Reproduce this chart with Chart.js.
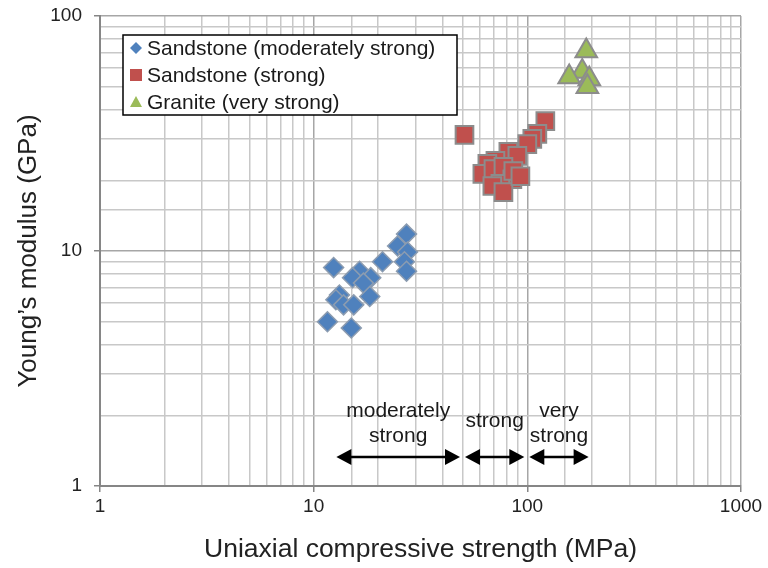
<!DOCTYPE html>
<html>
<head>
<meta charset="utf-8">
<script src="https://cdn.jsdelivr.net/npm/chart.js@4"></script>
<style>
  body { margin: 0; background: #fff; }
  #wrap { width: 768px; height: 568px; }
</style>
</head>
<body>
<div id="wrap"><canvas id="modulusChart"></canvas></div>
<script>
// UCS (MPa) and Young's modulus (GPa)
const modStrongUcs = [27.2, 24.7, 27.5, 21.0, 26.6, 27.2, 12.4, 16.4, 15.2, 18.5, 17.1, 13.2, 12.7, 13.8, 15.4, 18.3, 11.6, 15.0];
const modStrongE   = [11.8, 10.5, 9.9, 9.0, 9.0, 8.2, 8.5, 8.2, 7.7, 7.7, 7.3, 6.5, 6.2, 5.9, 5.9, 6.4, 5.0, 4.7];

const strongUcs = [50.8, 121.4, 111.4, 105.5, 100, 81.5, 89.8, 70.9, 65.0, 61.6, 69.4, 77.3, 85.1, 74.8, 68.6, 86.0, 77.3, 92.8];
const strongE   = [31.2, 35.7, 31.5, 30.0, 28.5, 26.4, 25.4, 24.2, 23.5, 21.3, 22.3, 22.8, 20.2, 19.3, 18.9, 21.9, 17.8, 20.8];

const graniteUcs = [188.7, 180.7, 157, 195, 191];
const graniteE   = [71, 58, 55, 54, 50];

const seriesNames = ['Sandstone (moderately strong)', 'Sandstone (strong)', 'Granite (very strong)'];

// strength classes drawn as arrows under the points
const zoneLines = [['moderately', 'strong'], ['strong'], ['very', 'strong']];
const zoneFrom = [12.5, 50, 100];
const zoneTo = [50, 100, 200];
const zoneLevel = 1.33;

const xTickLabels = [1, 10, 100, 1000];
const yTickLabels = [1, 10, 100];

function pts(xs, ys) {
  return xs.map((x, i) => ({ x: x, y: ys[i] }));
}

const FONT = '"Liberation Sans", Arial, sans-serif';
const fillColors = ['#4f81bd', '#c0504d', '#9bbb59'];

const zonePlugin = {
  id: 'zones',
  afterDatasetsDraw(chart) {
    const ctx = chart.ctx;
    const xs = chart.scales.x, ys = chart.scales.y;
    const yPix = ys.getPixelForValue(zoneLevel);
    ctx.save();
    ctx.strokeStyle = '#000';
    ctx.fillStyle = '#000';
    ctx.lineWidth = 2.5;
    zoneFrom.forEach((from, i) => {
      const a = xs.getPixelForValue(from) + 2;
      const b = xs.getPixelForValue(zoneTo[i]) - 3;
      ctx.beginPath();
      ctx.moveTo(a + 10, yPix);
      ctx.lineTo(b - 10, yPix);
      ctx.stroke();
      ctx.beginPath();
      ctx.moveTo(a, yPix); ctx.lineTo(a + 15, yPix - 8); ctx.lineTo(a + 15, yPix + 8); ctx.closePath();
      ctx.fill();
      ctx.beginPath();
      ctx.moveTo(b, yPix); ctx.lineTo(b - 15, yPix - 8); ctx.lineTo(b - 15, yPix + 8); ctx.closePath();
      ctx.fill();
      // label
      ctx.font = '21px ' + FONT;
      ctx.fillStyle = '#1a1a1a';
      ctx.textAlign = 'center';
      ctx.textBaseline = 'middle';
      const mid = (a + b) / 2;
      const lines = zoneLines[i];
      if (lines.length === 1) {
        ctx.fillText(lines[0], mid, yPix - 36);
      } else {
        ctx.fillText(lines[0], mid, yPix - 46);
        ctx.fillText(lines[1], mid, yPix - 21);
      }
      ctx.fillStyle = '#000';
    });
    ctx.restore();
  }
};

const legendPlugin = {
  id: 'boxLegend',
  afterDraw(chart) {
    const ctx = chart.ctx;
    const area = chart.chartArea;
    const left = area.left + 23, top = area.top + 19;
    const w = 334, h = 80;
    ctx.save();
    ctx.fillStyle = '#fff';
    ctx.fillRect(left, top, w, h);
    ctx.strokeStyle = '#000';
    ctx.lineWidth = 1.5;
    ctx.strokeRect(left, top, w, h);
    ctx.font = '21px ' + FONT;
    ctx.textBaseline = 'middle';
    ctx.textAlign = 'left';
    seriesNames.forEach((name, i) => {
      const cy = top + 13 + i * 27;
      const cx = left + 13;
      ctx.fillStyle = fillColors[i];
      ctx.strokeStyle = '#8c8c8c';
      ctx.lineWidth = 1;
      ctx.beginPath();
      if (i === 0) {
        ctx.moveTo(cx, cy - 6); ctx.lineTo(cx + 6, cy); ctx.lineTo(cx, cy + 6); ctx.lineTo(cx - 6, cy); ctx.closePath();
      } else if (i === 1) {
        ctx.rect(cx - 6, cy - 6, 12, 12);
      } else {
        ctx.moveTo(cx, cy - 6); ctx.lineTo(cx + 6, cy + 5); ctx.lineTo(cx - 6, cy + 5); ctx.closePath();
      }
      ctx.fill();
      ctx.fillStyle = '#1a1a1a';
      ctx.fillText(name, left + 24, cy + 1);
    });
    ctx.restore();
  }
};

function isMajor(v) {
  return Math.abs(Math.log10(v) - Math.round(Math.log10(v))) < 1e-6;
}

const chart = new Chart(document.getElementById('modulusChart'), {
  type: 'scatter',
  data: {
    datasets: [
      { label: seriesNames[0], data: pts(modStrongUcs, modStrongE), pointStyle: 'rectRot', pointRadius: 10,
        backgroundColor: fillColors[0], borderColor: '#8c9cb0', borderWidth: 1.5 },
      { label: seriesNames[1], data: pts(strongUcs, strongE), pointStyle: 'rect', pointRadius: 12.5,
        backgroundColor: fillColors[1], borderColor: '#8c8c8c', borderWidth: 2 },
      { label: seriesNames[2], data: pts(graniteUcs, graniteE), pointStyle: 'triangle', pointRadius: 12.5,
        backgroundColor: fillColors[2], borderColor: '#8c8c8c', borderWidth: 2 }
    ]
  },
  options: {
    responsive: true,
    maintainAspectRatio: false,
    animation: false,
    layout: { padding: { top: 16, right: 27, left: 0, bottom: 0 } },
    plugins: {
      legend: { display: false },
      tooltip: { enabled: false }
    },
    scales: {
      x: {
        type: 'logarithmic',
        min: 1, max: 1000,
        afterFit(scale) { scale.height = 82; },
        grid: {
          color: ctx => isMajor(ctx.tick.value) ? '#a6a6a6' : '#c8c8c8',
          lineWidth: 1.5,
          tickLength: 6,
          tickColor: ctx => isMajor(ctx.tick.value) ? '#868686' : 'rgba(0,0,0,0)'
        },
        border: { color: '#868686', width: 2 },
        ticks: {
          autoSkip: false,
          maxRotation: 0,
          color: '#222',
          font: { family: FONT, size: 19 },
          padding: 3,
          callback: v => xTickLabels.includes(v) ? String(v) : ''
        },
        title: {
          display: true,
          text: 'Uniaxial compressive strength (MPa)',
          color: '#222',
          font: { family: FONT, size: 26.5 },
          padding: { top: 6, bottom: 2 }
        }
      },
      y: {
        type: 'logarithmic',
        min: 1, max: 100,
        afterFit(scale) {
          scale.width = 100;
          scale.paddingTop = 0;
        },
        grid: {
          color: ctx => isMajor(ctx.tick.value) ? '#a6a6a6' : '#c8c8c8',
          lineWidth: 1.5,
          tickLength: 6,
          tickColor: ctx => isMajor(ctx.tick.value) ? '#868686' : 'rgba(0,0,0,0)'
        },
        border: { color: '#868686', width: 2 },
        ticks: {
          autoSkip: false,
          color: '#222',
          font: { family: FONT, size: 19 },
          padding: 12,
          callback: v => yTickLabels.includes(v) ? String(v) : ''
        },
        title: {
          display: true,
          text: 'Young\u2019s modulus (GPa)',
          color: '#222',
          font: { family: FONT, size: 26 },
          padding: { top: 13, bottom: 3 }
        }
      }
    }
  },
  plugins: [zonePlugin, legendPlugin]
});
</script>
</body>
</html>
